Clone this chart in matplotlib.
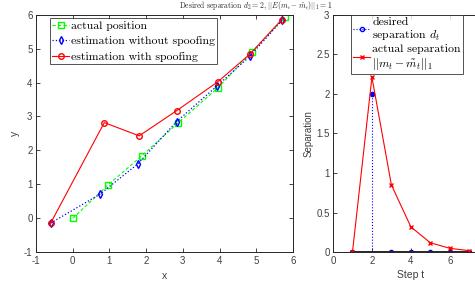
import matplotlib
matplotlib.use("Agg")
import matplotlib.pyplot as plt
from matplotlib.lines import Line2D
import numpy as np

plt.rcParams['mathtext.fontset'] = 'cm'
plt.rcParams['axes.unicode_minus'] = False
plt.rcParams['font.family'] = ['Liberation Sans', 'DejaVu Sans']

# Left panel data
actual_x = [0.0, 0.96, 1.88, 2.87, 3.95, 4.88, 5.78]
actual_y = [0.0, 0.98, 1.84, 2.81, 3.84, 4.90, 5.93]
est_x = [-0.60, 0.74, 1.77, 2.83, 3.93, 4.82, 5.70]
est_y = [-0.14, 0.71, 1.60, 2.85, 3.90, 4.77, 5.83]
spoof_x = [-0.60, 0.86, 1.81, 2.83, 3.95, 4.83, 5.69]
spoof_y = [-0.14, 2.82, 2.43, 3.17, 4.02, 4.84, 5.85]

# Right panel data
steps = [1, 2, 3, 4, 5, 6, 7]
desired_sep = [0, 2, 0, 0, 0, 0, 0]
actual_sep = [0, 2.21, 0.85, 0.32, 0.12, 0.05, 0.02]

legend_font = {'family': 'cmr10', 'size': 8.5}

fig = plt.figure(figsize=(4.75, 2.93), dpi=100)
ax1 = fig.add_axes([0.0758, 0.139, 0.541, 0.811])
ax2 = fig.add_axes([0.701, 0.139, 0.328, 0.811])

ec = '#262626'
for ax in (ax1, ax2):
    ax.tick_params(direction='in', top=True, right=True, labelsize=7,
                   length=3, width=0.6, colors=ec, labelcolor='#404040', pad=2.5)
    for s in ax.spines.values():
        s.set_color(ec)
        s.set_linewidth(0.7)

ax1.plot(actual_x, actual_y, '--s', color='#00ff00', ms=3.8, mfc='none', lw=0.8,
         dashes=(3, 2), label='actual position')
ax1.plot(est_x, est_y, ':d', color='#0000ff', ms=4, mfc='none', lw=0.9,
         label='estimation without spoofing')
ax1.plot(spoof_x, spoof_y, '-o', color='#ff0000', ms=4, mfc='none', lw=0.8,
         label='estimation with spoofing')
ax1.set_xlim(-1, 6)
ax1.set_ylim(-1, 6)
ax1.set_xticks(range(-1, 7))
ax1.set_yticks(range(-1, 7))
ax1.set_xlabel('x', fontsize=7.5, labelpad=4, color='#404040')
ax1.set_ylabel('y', fontsize=7.5, labelpad=3, color='#404040')
leg1 = ax1.legend(loc='upper left', bbox_to_anchor=(0.054, 0.985), prop=legend_font,
                  frameon=True, fancybox=False, edgecolor=ec, borderpad=0.2,
                  handlelength=1.4, handletextpad=0.2, labelspacing=0.45,
                  borderaxespad=0)
leg1.get_frame().set_linewidth(0.7)

ml, sl, bl = ax2.stem(steps, desired_sep, linefmt=':', markerfmt='o', basefmt='-')
plt.setp(sl, color='#0000ff', lw=0.8)
plt.setp(ml, color='#0000ff', ms=3, mfc='#0000ff')
plt.setp(bl, color='#262626', lw=1.4)
ax2.plot(steps, actual_sep, '-x', color='#ff0000', ms=3.5, lw=0.8)
ax2.set_xlim(0, 8)
ax2.set_ylim(0, 3)
ax2.set_xticks([0, 2, 4, 6])
ax2.set_yticks([0, 0.5, 1, 1.5, 2, 2.5, 3])
ax2.set_yticklabels(['0', '0.5', '1', '1.5', '2', '2.5', '3'])
ax2.set_xlabel('Step t', fontsize=7.5, labelpad=3, color='#404040')
ax2.set_ylabel('Separation', fontsize=7, labelpad=2, color='#404040')

h_des = Line2D([], [], ls=':', color='#0000ff', marker='o', ms=3, mfc='none', lw=0.8)
h_act = Line2D([], [], ls='-', color='#ff0000', marker='x', ms=3.5, lw=0.8)
leg2 = ax2.legend([h_des, h_act],
                  ['desired\nseparation $d_t$', 'actual separation\n$||m_t - \\tilde{m}_t||_1$'],
                  loc='upper left', bbox_to_anchor=(0.115, 1.0), prop=legend_font,
                  frameon=True, fancybox=False, edgecolor=ec, borderpad=0.2,
                  handlelength=1.4, handletextpad=0.2, labelspacing=0.1,
                  borderaxespad=0)
leg2.get_frame().set_linewidth(0.7)

fig.text(256 / 475, 1 - 5 / 293,
         'Desired separation $d_2 = 2$, $||E(m_t - \\tilde{m}_t)||_1 = 1$',
         ha='center', va='center', fontsize=5.5, family='cmr10', color='#262626')

fig.savefig('out.png', dpi=100)
